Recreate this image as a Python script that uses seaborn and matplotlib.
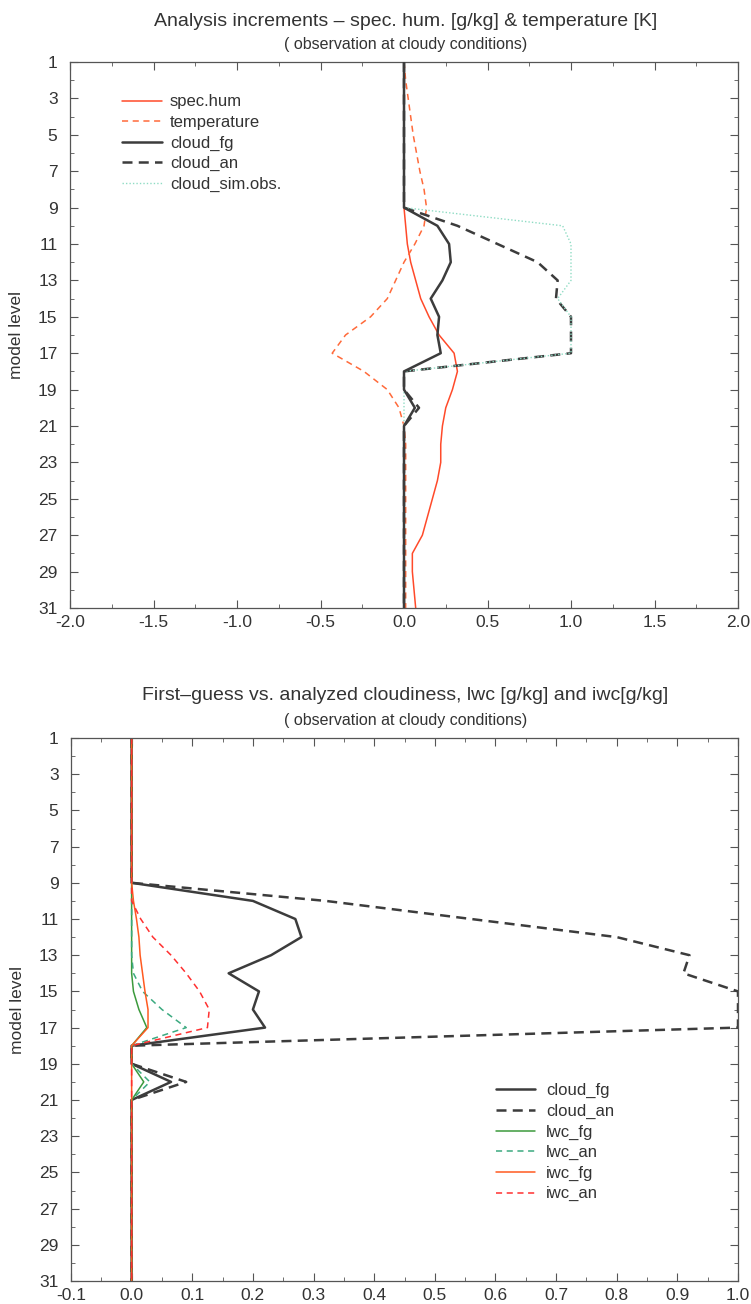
import numpy as np
import pandas as pd
import matplotlib
matplotlib.use("Agg")
import matplotlib.pyplot as plt
from matplotlib.ticker import MultipleLocator, FormatStrFormatter
import seaborn as sns

# model levels 1..31 (1 = top of the model)
levels = list(range(1, 32))

# upper panel: analysis increments
spec_hum = [0.0, 0.0, 0.0, 0.0, 0.0, 0.0, 0.0, 0.0,
            0.0, 0.01, 0.02, 0.04, 0.07, 0.10, 0.15, 0.21, 0.30, 0.32,
            0.29, 0.25, 0.23, 0.22, 0.22, 0.20, 0.17, 0.14, 0.11, 0.05,
            0.05, 0.06, 0.07]
temperature = [0.0, 0.01, 0.025, 0.04, 0.055, 0.075, 0.095, 0.12,
               0.135, 0.12, 0.065, 0.0, -0.05, -0.10, -0.20, -0.35, -0.43,
               -0.24, -0.10, -0.03, 0.0, 0.01, 0.01, 0.01, 0.01, 0.01,
               0.01, 0.01, 0.01, 0.01, 0.01]
cloud_fg = [0.0, 0.0, 0.0, 0.0, 0.0, 0.0, 0.0, 0.0,
            0.0, 0.20, 0.27, 0.28, 0.23, 0.16, 0.21, 0.20, 0.22, 0.0,
            0.0, 0.065, 0.0, 0.0, 0.0, 0.0, 0.0, 0.0, 0.0, 0.0,
            0.0, 0.0, 0.0]
cloud_an = [0.0, 0.0, 0.0, 0.0, 0.0, 0.0, 0.0, 0.0,
            0.0, 0.32, 0.56, 0.80, 0.92, 0.91, 1.0, 1.0, 1.0, 0.0,
            0.0, 0.09, 0.0, 0.0, 0.0, 0.0, 0.0, 0.0, 0.0, 0.0,
            0.0, 0.0, 0.0]
cloud_sim = [0.0, 0.0, 0.0, 0.0, 0.0, 0.0, 0.0, 0.0,
             0.0, 0.95, 1.0, 1.0, 1.0, 0.92, 1.0, 1.0, 1.0, 0.0,
             0.0, 0.0, 0.0, 0.0, 0.0, 0.0, 0.0, 0.0, 0.0, 0.0,
             0.0, 0.0, 0.0]

# lower panel: liquid / ice water content
lwc_fg = [0.0, 0.0, 0.0, 0.0, 0.0, 0.0, 0.0, 0.0,
          0.0, 0.0, 0.0, 0.0, 0.0, 0.0, 0.003, 0.012, 0.025, 0.0,
          0.0, 0.02, 0.0, 0.0, 0.0, 0.0, 0.0, 0.0, 0.0, 0.0,
          0.0, 0.0, 0.0]
lwc_an = [0.0, 0.0, 0.0, 0.0, 0.0, 0.0, 0.0, 0.0,
          0.0, 0.0, 0.0, 0.0, 0.0, 0.003, 0.018, 0.05, 0.09, 0.0,
          0.0, 0.03, 0.0, 0.0, 0.0, 0.0, 0.0, 0.0, 0.0, 0.0,
          0.0, 0.0, 0.0]
iwc_fg = [0.0, 0.0, 0.0, 0.0, 0.0, 0.0, 0.0, 0.0,
          0.0, 0.003, 0.008, 0.012, 0.014, 0.018, 0.022, 0.027, 0.027, 0.0,
          0.0, 0.0, 0.0, 0.0, 0.0, 0.0, 0.0, 0.0, 0.0, 0.0,
          0.0, 0.0, 0.0]
iwc_an = [0.0, 0.0, 0.0, 0.0, 0.0, 0.0, 0.0, 0.0,
          0.0, 0.0, 0.015, 0.035, 0.065, 0.09, 0.112, 0.128, 0.125, 0.0,
          0.0, 0.0, 0.0, 0.0, 0.0, 0.0, 0.0, 0.0, 0.0, 0.0,
          0.0, 0.0, 0.0]

top_series = {"spec.hum": spec_hum, "temperature": temperature,
              "cloud_fg": cloud_fg, "cloud_an": cloud_an,
              "cloud_sim.obs.": cloud_sim}
bottom_series = {"cloud_fg": cloud_fg, "cloud_an": cloud_an,
                 "lwc_fg": lwc_fg, "lwc_an": lwc_an,
                 "iwc_fg": iwc_fg, "iwc_an": iwc_an}

styles = {
    "spec.hum": ("#ff4a2a", "", 1.1),
    "temperature": ("#ff6a3a", (4, 3), 1.1),
    "cloud_fg": ("#3c3c3c", "", 1.8),
    "cloud_an": ("#3c3c3c", (4, 2.5), 1.8),
    "cloud_sim.obs.": ("#8fdcc4", (1, 1.5), 1.0),
    "lwc_fg": ("#3c9a3c", "", 1.1),
    "lwc_an": ("#3caa80", (4, 3), 1.1),
    "iwc_fg": ("#ff5a20", "", 1.1),
    "iwc_an": ("#ff3030", (4, 3), 1.1),
}

TXT = "#333333"

sns.set_style("ticks")
plt.rcParams["font.family"] = ["Liberation Sans", "DejaVu Sans"]
plt.rcParams["text.color"] = TXT
plt.rcParams["axes.labelcolor"] = TXT
plt.rcParams["xtick.color"] = "#555555"
plt.rcParams["ytick.color"] = "#555555"
plt.rcParams["xtick.labelcolor"] = TXT
plt.rcParams["ytick.labelcolor"] = TXT
plt.rcParams["axes.edgecolor"] = "#555555"


def long_frame(series):
    rows = []
    for name, vals in series.items():
        rows.append(pd.DataFrame({"series": name, "level": levels, "value": vals}))
    return pd.concat(rows, ignore_index=True)


def draw_panel(ax, series, xlim, major, minor, fmt, front=None):
    names = list(series.keys())
    df = long_frame(series)
    sns.lineplot(data=df, x="value", y="level", hue="series", style="series",
                 size="series", hue_order=names, style_order=names,
                 size_order=names,
                 palette={n: styles[n][0] for n in names},
                 dashes={n: styles[n][1] for n in names},
                 sizes={n: styles[n][2] for n in names},
                 sort=False, estimator=None, orient="y", ax=ax)
    # keep the solid cloud line on top of the zero line where wanted
    if front is not None:
        ax.lines[names.index(front)].set_zorder(3)
    ax.set_xlim(*xlim)
    ax.set_ylim(31, 1)
    ax.set_yticks(np.arange(1, 32, 2))
    ax.yaxis.set_minor_locator(MultipleLocator(1))
    ax.xaxis.set_major_locator(MultipleLocator(major))
    ax.xaxis.set_minor_locator(MultipleLocator(minor))
    ax.xaxis.set_major_formatter(FormatStrFormatter(fmt))
    ax.tick_params(which="both", direction="in", top=True, right=True)
    ax.tick_params(which="major", length=6, labelsize=12.5)
    ax.tick_params(which="minor", length=3)
    ax.tick_params(axis="y", which="major", pad=9)
    ax.tick_params(axis="x", which="major", pad=5)
    ax.set_xlabel("")
    ax.set_ylabel("model level", fontsize=12.5, labelpad=10)
    for sp in ax.spines.values():
        sp.set_linewidth(0.9)


fig = plt.figure(figsize=(7.51, 13.04), dpi=100)
ax1 = fig.add_axes([70 / 751, 1 - 608 / 1304, 668 / 751, 546 / 1304])
ax2 = fig.add_axes([71 / 751, 1 - 1281 / 1304, 667 / 751, 543 / 1304])

draw_panel(ax1, top_series, (-2.0, 2.0), 0.5, 0.25, "%.1f", front="cloud_fg")
draw_panel(ax2, bottom_series, (-0.1, 1.0), 0.1, 0.05, "%.1f")

sns.move_legend(ax1, "upper left", bbox_to_anchor=(0.055, 0.968),
                frameon=False, title=None, fontsize=12, handlelength=2.4,
                handletextpad=0.5, labelspacing=0.33)
sns.move_legend(ax2, "upper left", bbox_to_anchor=(0.615, 0.392),
                frameon=False, title=None, fontsize=12, handlelength=2.3,
                handletextpad=0.7, labelspacing=0.33)

fig.text(0.54, 1 - 22 / 1304, "Analysis increments \u2013 spec. hum. [g/kg] & temperature [K]",
         ha="center", va="center", fontsize=14)
fig.text(0.54, 1 - 45 / 1304, "( observation at cloudy conditions)",
         ha="center", va="center", fontsize=11.5)
fig.text(0.54, 1 - 695 / 1304, "First\u2013guess vs. analyzed cloudiness, lwc [g/kg] and iwc[g/kg]",
         ha="center", va="center", fontsize=14)
fig.text(0.54, 1 - 720 / 1304, "( observation at cloudy conditions)",
         ha="center", va="center", fontsize=11.5)

fig.savefig("out.png", dpi=100, facecolor="white")
